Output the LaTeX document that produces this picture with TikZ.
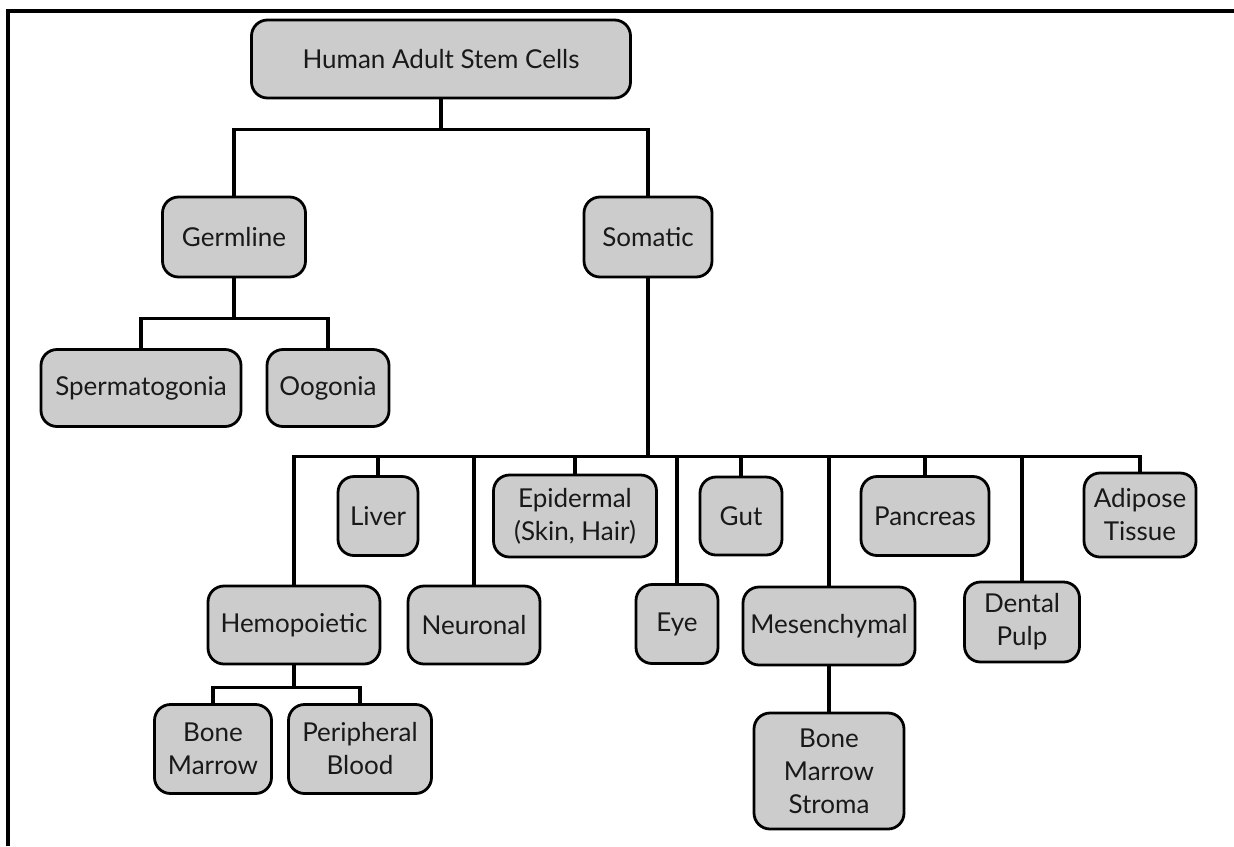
\documentclass[tikz,border=0pt]{standalone}
\usepackage{fontspec}
\setmainfont{Lato}
\begin{document}
\begin{tikzpicture}
% Stem cell tree, coordinates given in pixels of the chart
\def\pxsz{0.5pt}
\providecommand{\cellBoxFill}{black!20}
\providecommand{\cellBoxLine}{black}
\providecommand{\cellTextColor}{black!90}
\providecommand{\cellBoxLineWidth}{1.4pt}
\providecommand{\cellLinkWidth}{1.9pt}
\providecommand{\cellBoxRadius}{8pt}
\tikzset{
  cellbox/.style={draw=\cellBoxLine, fill=\cellBoxFill, line width=\cellBoxLineWidth,
    rounded corners=\cellBoxRadius, text=\cellTextColor, align=center, inner sep=0pt,
    font=\fontsize{13}{16.5}\selectfont},
  cellsize/.style 2 args={minimum width=#1*\pxsz, minimum height=#2*\pxsz},
  celllink/.style={draw=black, line width=\cellLinkWidth, line join=miter}
}
\begin{scope}[x=\pxsz, y=-\pxsz]
  \useasboundingbox (0,0) rectangle (1234,846);
  % Frame, top and left edge only
  \draw[line width=1.9pt] (8,846) -- (8,11) -- (1234,11);
  % Root and first level
  \node[cellbox, cellsize={379}{78}] (top) at (441,59) {Human Adult Stem Cells};
  \node[cellbox, cellsize={143}{80}] (germ) at (234,237) {Germline};
  \node[cellbox, cellsize={128}{80}] (soma) at (648,237) {Somatic};
  % Germline branch
  \node[cellbox, cellsize={200}{77}] (sperm) at (141,388) {Spermatogonia};
  \node[cellbox, cellsize={122}{77}] (oog) at (328,388) {Oogonia};
  % Somatic branch, upper row
  \node[cellbox, cellsize={80}{79}] (liver) at (378,516) {Liver};
  \node[cellbox, cellsize={163}{82}] (epid) at (575,516) {Epidermal\\(Skin, Hair)};
  \node[cellbox, cellsize={82}{78}] (gut) at (741,516) {Gut};
  \node[cellbox, cellsize={128}{79}] (panc) at (925,516) {Pancreas};
  \node[cellbox, cellsize={112}{84}] (adip) at (1140,515) {Adipose\\Tissue};
  % Somatic branch, lower row
  \node[cellbox, cellsize={172}{78}] (hemo) at (294,625) {Hemopoietic};
  \node[cellbox, cellsize={132}{78}] (neur) at (474,625) {Neuronal};
  \node[cellbox, cellsize={82}{79}] (eye) at (677,624) {Eye};
  \node[cellbox, cellsize={172}{78}] (mesen) at (829,626) {Mesenchymal};
  \node[cellbox, cellsize={115}{80}] (dental) at (1022,622) {Dental\\Pulp};
  % Third level
  \node[cellbox, cellsize={117}{89}] (bm) at (213,749) {Bone\\Marrow};
  \node[cellbox, cellsize={143}{89}] (pb) at (360,749) {Peripheral\\Blood};
  \node[cellbox, cellsize={150}{116}] (bms) at (829,771) {Bone\\Marrow\\Stroma};
  % Links
  \draw[celllink] (top.south) -- ++(0,30) -| (germ.north);
  \draw[celllink] (top.south) -- ++(0,30) -| (soma.north);
  \draw[celllink] (germ.south) -- ++(0,40) -| (sperm.north);
  \draw[celllink] (germ.south) -- ++(0,40) -| (oog.north);
  \foreach \kid in {hemo,liver,neur,epid,eye,gut,mesen,panc,dental,adip}
    \draw[celllink] (soma.south) -- ++(0,178) -| (\kid.north);
  \draw[celllink] (hemo.south) -- ++(0,22) -| (bm.north);
  \draw[celllink] (hemo.south) -- ++(0,22) -| (pb.north);
  \draw[celllink] (mesen.south) -- (bms.north);
\end{scope}
\end{tikzpicture}
\end{document}
